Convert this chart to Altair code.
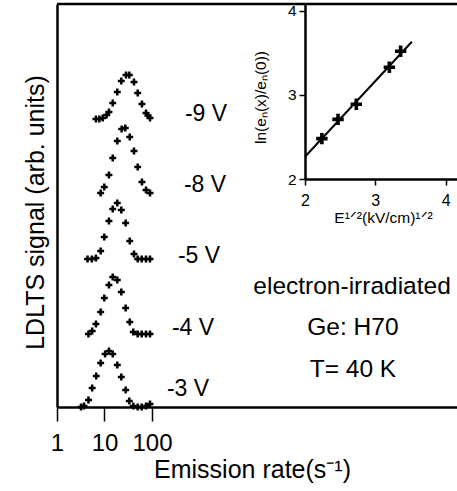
import altair as alt
import pandas as pd

FONT = "Liberation Sans"

# ---- Main panel: LDLTS spectra (emission rate s^-1, signal arb. units) ----
m9_rate = [6.6, 7.8, 9.2, 11.1, 12.4, 14.9, 18.6, 22.6, 28.4, 33.3, 41.8, 50.0, 61.5, 74.8, 82.4, 90.8]
m9_sig = [288, 288, 289, 292, 295, 304, 315, 326, 332, 332, 325, 314, 303, 294, 291.5, 289]

m8_rate = [8.3, 9.9, 12.4, 14.9, 18.6, 23.0, 27.4, 34.0, 41.8, 50.0, 61.5, 74.8, 90.8]
m8_sig = [214, 220, 232, 249, 266, 278, 279, 270, 256, 240, 225, 217, 214]

m5_rate = [4.4, 5.4, 6.6, 8.3, 9.9, 12.4, 14.9, 18.6, 22.6, 27.9, 34.0, 41.8, 50.0, 60.7, 74.8, 90.8]
m5_sig = [148, 148, 149, 156, 170, 186, 198, 204, 197, 184, 166, 153, 148, 148, 148, 148]

m4_rate = [4.6, 5.5, 6.6, 8.3, 9.9, 12.4, 14.9, 18.6, 22.6, 27.9, 34.0, 40.4, 50.0, 60.7, 74.8, 90.8]
m4_sig = [73, 76, 83, 95, 109, 122, 130, 127, 115, 99, 85, 75, 73, 73, 73, 73]

m3_rate = [3.2, 3.7, 4.6, 5.5, 6.7, 8.3, 10.3, 12.4, 14.9, 18.6, 22.6, 27.9, 33.3, 40.4, 50.0, 60.7, 74.8, 90.8]
m3_sig = [0, 1, 7, 19, 31, 44, 53, 56, 53, 42, 30, 17, 6, 1, 0, 0, 1, 3]

volt_labels = ["-9 V", "-8 V", "-5 V", "-4 V", "-3 V"]
volt_rate = [1371, 1306, 976, 730, 573]
volt_sig = [293, 222, 151.5, 79.5, 18.5]

note_labels = ["electron-irradiated", "Ge: H70", "T= 40 K"]
note_rate = [1.63e6, 1.7e6, 1.7e6]
note_sig = [120, 79, 37]

x_ticks = [1, 10, 100]

# ---- Inset: ln(e_n(x)/e_n(0)) vs E^1/2 ----
inset_x = [2.24, 2.47, 2.73, 3.20, 3.36]
inset_y = [2.48, 2.71, 2.89, 3.33, 3.52]
fit_x = [2.0, 3.52]
fit_y = [2.265, 3.634]
inset_ticks = [2, 3, 4]

rows = []
for name, rs, ss in [("-9 V", m9_rate, m9_sig), ("-8 V", m8_rate, m8_sig),
                     ("-5 V", m5_rate, m5_sig), ("-4 V", m4_rate, m4_sig),
                     ("-3 V", m3_rate, m3_sig)]:
    for r, s in zip(rs, ss):
        rows.append({"series": name, "rate": r, "signal": s})
df = pd.DataFrame(rows)
df_volt = pd.DataFrame({"label": volt_labels, "rate": volt_rate, "signal": volt_sig})
df_note = pd.DataFrame({"label": note_labels, "rate": note_rate, "signal": note_sig})
df_inset = pd.DataFrame({"x": inset_x, "y": inset_y})
df_fit = pd.DataFrame({"x": fit_x, "y": fit_y})

W, H = 400, 403
xs_main = alt.Scale(type="log", domain=[1, 2.64e8], nice=False)
ys_main = alt.Scale(domain=[0, H], nice=False, zero=False)
xs_in = alt.Scale(domain=[2, 4.162], range=[248, 400], nice=False, zero=False)
ys_in = alt.Scale(domain=[2, 4.083], range=[175, 0], nice=False, zero=False)

x_axis = alt.Axis(values=x_ticks, format="d", tickSize=14, tickWidth=1.5,
                  labelFontSize=24, labelPadding=10, labelFlush=False, labelOverlap=False,
                  domainWidth=2.5, title="Emission rate(s⁻¹)", titleFontSize=25,
                  titleX=195, titleY=70, titleBaseline="alphabetic", titleAlign="center")
y_axis = alt.Axis(labels=False, ticks=False, domainWidth=2.5,
                  title="LDLTS signal (arb. units)", titleFontSize=25,
                  titleX=-14, titleY=208, titleBaseline="alphabetic", titleAlign="center")

cross = "M-1,0H1M0,-1V1"

X_main = alt.X("rate:Q", scale=xs_main, axis=x_axis)
Y_main = alt.Y("signal:Q", scale=ys_main, axis=y_axis)

main_pts = alt.Chart(df).mark_point(shape=cross, filled=False, size=48, strokeWidth=2.5,
                                    color="black", opacity=1).encode(
    x=X_main, y=Y_main, detail="series:N",
)

volt_text = alt.Chart(df_volt).mark_text(font=FONT, fontSize=23, color="black",
                                         align="center", baseline="middle").encode(
    x=X_main, y=Y_main, text="label:N",
)

note_text = alt.Chart(df_note).mark_text(font=FONT, fontSize=24.5, color="black",
                                         align="center", baseline="middle").encode(
    x=X_main, y=Y_main, text="label:N",
)

top_rule = alt.Chart(pd.DataFrame({"a": [0]})).mark_rule(color="black", strokeWidth=2.5).encode(
    x=alt.value(0), x2=alt.value(W), y=alt.value(0)
)

main = alt.layer(main_pts, volt_text, note_text, top_rule)

inset_xaxis = alt.Axis(orient="bottom", offset=-228, values=inset_ticks, format="d",
                       tickSize=6, tickWidth=1.5, labelOverlap=False,
                       domainWidth=2.5, labelFontSize=16, labelPadding=7, labelFlush=False,
                       title="E¹ᐟ²(kV/cm)¹ᐟ²", titleFontSize=15.5, titleX=326, titleY=43,
                       titleBaseline="alphabetic", titleAlign="center")
inset_yaxis = alt.Axis(orient="left", offset=-248, values=inset_ticks,
                       labelExpr="datum.value",
                       tickSize=6, tickWidth=1.5,
                       domainWidth=2.5, labelFontSize=15.5, labelPadding=3, labelFlush=False,
                       title="ln(eₙ(x)/eₙ(0))", titleFontSize=15.5, titleX=-40, titleY=93,
                       titleBaseline="alphabetic", titleAlign="center")

X_in = alt.X("x:Q", scale=xs_in, axis=inset_xaxis)
Y_in = alt.Y("y:Q", scale=ys_in, axis=inset_yaxis)

fit_line = alt.Chart(df_fit).mark_line(color="black", strokeWidth=2).encode(x=X_in, y=Y_in)
inset_pts = alt.Chart(df_inset).mark_point(shape=cross, filled=False, size=130, strokeWidth=3.6,
                                           color="black", opacity=1).encode(x=X_in, y=Y_in)
inset = alt.layer(fit_line, inset_pts)

chart = alt.layer(main, inset).resolve_scale(x="independent", y="independent").properties(
    width=W, height=H,
    autosize=alt.AutoSizeParams(type="none"),
    padding={"left": 57, "top": 4, "right": 0, "bottom": 84},
).configure_view(stroke=None).configure_axis(
    grid=False, labelFont=FONT, titleFont=FONT, labelColor="black", titleColor="black",
    domainColor="black", tickColor="black", titleFontWeight="normal",
)

chart.save("out.html", embed_options={"renderer": "svg", "actions": False})
